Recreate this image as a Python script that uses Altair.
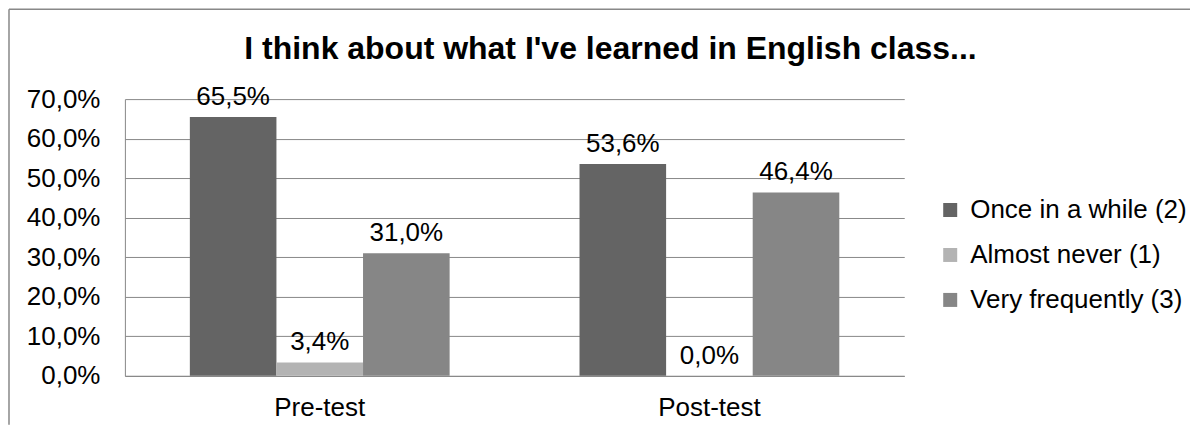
import altair as alt
import pandas as pd

categories = ["Pre-test", "Post-test"]
series = ["Once in a while (2)", "Almost never (1)", "Very frequently (3)"]
pre_values = [0.655, 0.034, 0.310]
post_values = [0.536, 0.000, 0.464]
colors = ["#646464", "#b3b3b3", "#868686"]
y_ticks = [0, 0.1, 0.2, 0.3, 0.4, 0.5, 0.6, 0.7]
title_text = "I think about what I've learned in English class..."

rows = []
for cat, vals in zip(categories, [pre_values, post_values]):
    for s, v in zip(series, vals):
        rows.append({"test": cat, "series": s, "value": v})
df = pd.DataFrame(rows)

FONT = "Liberation Sans"
FS = 26
W, H = 780, 277

base = alt.Chart(df).transform_calculate(
    label="replace(format(datum.value, '.1%'), '.', ',')"
)

x_axis = alt.Axis(
    title=None,
    labelAngle=0,
    labelFontSize=FS,
    labelFont=FONT,
    labelColor="black",
    labelPadding=19,
    ticks=False,
    domainColor="#888888",
    domainWidth=1,
    grid=False,
)
x_enc = alt.X(
    "test:N",
    sort=categories,
    scale=alt.Scale(paddingInner=1 / 3, paddingOuter=1 / 6),
    axis=x_axis,
)
xoff = alt.XOffset("series:N", sort=series, scale=alt.Scale(paddingInner=0, paddingOuter=0))
y_axis = alt.Axis(
    title=None,
    values=y_ticks,
    tickCount=8,
    labelExpr="replace(format(datum.value, '.1%'), '.', ',')",
    labelFontSize=FS,
    labelFont=FONT,
    labelColor="black",
    labelPadding=25,
    labelOverlap=False,
    labelBound=False,
    labelFlush=False,
    ticks=False,
    domainColor="#888888",
    gridColor="#888888",
    gridWidth=1,
)
y_enc = alt.Y(
    "value:Q",
    scale=alt.Scale(domain=[0, 0.7], nice=False),
    axis=y_axis,
)

bars = base.mark_bar(stroke=None).encode(
    x=x_enc,
    xOffset=xoff,
    y=y_enc,
    color=alt.Color(
        "series:N",
        sort=series,
        scale=alt.Scale(domain=series, range=colors),
        legend=alt.Legend(
            title=None,
            orient="none",
            legendX=813,
            legendY=98,
            symbolType="square",
            symbolSize=196,
            symbolStrokeWidth=0,
            labelFontSize=FS,
            labelFont=FONT,
            labelColor="black",
            labelOffset=7,
            labelLimit=400,
            rowPadding=19,
            padding=0,
        ),
    ),
)

texts = base.mark_text(
    baseline="alphabetic", dy=-12, fontSize=FS, font=FONT, color="black"
).encode(
    x=x_enc,
    xOffset=xoff,
    y=y_enc,
    text="label:N",
)

one = pd.DataFrame({"t": [title_text]})
title = alt.Chart(one).mark_text(
    fontSize=32, fontWeight="bold", font=FONT, color="black", baseline="alphabetic", align="center"
).encode(x=alt.value(486), y=alt.value(-40), text="t:N")

frame_top = alt.Chart(one).mark_rule(color="#888888", strokeWidth=1.5).encode(
    x=alt.value(-116), x2=alt.value(1066), y=alt.value(-90)
)
frame_left = alt.Chart(one).mark_rule(color="#888888", strokeWidth=1.5).encode(
    x=alt.value(-116), y=alt.value(-90), y2=alt.value(326)
)

chart = alt.layer(frame_top, frame_left, bars, texts, title).properties(
    width=W, height=H, padding=0
).configure_view(stroke=None)

chart.save("out.html", embed_options={"renderer": "svg", "actions": False})
